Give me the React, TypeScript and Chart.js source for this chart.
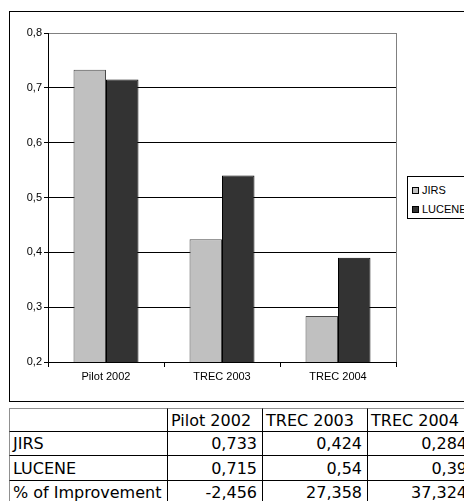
import React, { useEffect, useRef } from "react";
import { Chart, registerables } from "chart.js";

Chart.register(...registerables);

const categories = ["Pilot 2002", "TREC 2003", "TREC 2004"];
const seriesNames = ["JIRS", "LUCENE"];
const jirsValues = [0.733, 0.424, 0.284];
const luceneValues = [0.715, 0.54, 0.39];
const improvementValues = [-2.456, 27.358, 37.324];
const rowNames = ["JIRS", "LUCENE", "% of Improvement"];
const yTickLabels = ["0,2", "0,3", "0,4", "0,5", "0,6", "0,7", "0,8"];

const fillColors = ["#c0c0c0", "#333333"];
const edgeColors = ["#4a4a4a", "#000000"];

const fmt = (v: number) => String(v).replace(".", ",");

const plotFrame = {
  id: "plotFrame",
  beforeDraw(chart: any) {
    const { ctx, chartArea } = chart;
    ctx.save();
    ctx.strokeStyle = "#808080";
    ctx.lineWidth = 1;
    ctx.strokeRect(
      Math.round(chartArea.left) + 0.5,
      Math.round(chartArea.top) + 0.5,
      Math.round(chartArea.right - chartArea.left),
      Math.round(chartArea.bottom - chartArea.top)
    );
    ctx.restore();
  },
};

function BarChart() {
  const ref = useRef<HTMLCanvasElement | null>(null);
  useEffect(() => {
    if (!ref.current) return;
    const chart = new Chart(ref.current, {
      type: "bar",
      data: {
        labels: categories,
        datasets: [
          {
            label: seriesNames[0],
            data: jirsValues,
            backgroundColor: fillColors[0],
            borderColor: edgeColors[0],
            borderWidth: 1,
          },
          {
            label: seriesNames[1],
            data: luceneValues,
            backgroundColor: fillColors[1],
            borderColor: edgeColors[1],
            borderWidth: 1,
          },
        ],
      },
      options: {
        responsive: false,
        animation: false,
        devicePixelRatio: 1,
        layout: { padding: { left: 0, right: 68, top: 33, bottom: 0 } },
        datasets: {
          bar: { categoryPercentage: 0.56, barPercentage: 1.0 },
        },
        plugins: {
          legend: { display: false },
          tooltip: { enabled: false },
        },
        scales: {
          x: {
            afterFit: (s: any) => {
              s.height = 40;
            },
            grid: {
              display: true,
              drawOnChartArea: false,
              drawTicks: true,
              tickLength: 5,
              color: "#000",
              offset: true,
            },
            border: { color: "#000", width: 1 },
            ticks: {
              color: "#000",
              padding: 3,
              font: { family: "'Liberation Sans', Arial, sans-serif", size: 11 },
            },
          },
          y: {
            min: 0.2,
            max: 0.8,
            afterFit: (s: any) => {
              s.width = 48;
            },
            grid: {
              color: (c: any) =>
                c.tick && Math.abs(c.tick.value - 0.8) < 1e-6 ? "#808080" : "#000",
              tickColor: "#000",
              tickLength: 4,
              lineWidth: 1,
            },
            border: { color: "#000", width: 1 },
            ticks: {
              stepSize: 0.1,
              color: "#000",
              padding: 2,
              font: { family: "'Liberation Sans', Arial, sans-serif", size: 11 },
              callback: (_v: any, i: number) => yTickLabels[i],
            },
          },
        },
      },
      plugins: [plotFrame],
    });
    return () => chart.destroy();
  }, []);
  return (
    <canvas
      ref={ref}
      width={464}
      height={402}
      style={{ position: "absolute", left: 0, top: 0, width: 464, height: 402 }}
    />
  );
}

const colX = [9, 168, 263, 368, 473];
const rowY = [408, 432, 456, 481, 505];

function DataTable() {
  const rows: string[][] = [
    ["", ...categories],
    [rowNames[0], ...jirsValues.map(fmt)],
    [rowNames[1], ...luceneValues.map(fmt)],
    [rowNames[2], ...improvementValues.map(fmt)],
  ];
  const cells: any[] = [];
  rows.forEach((r, ri) => {
    r.forEach((txt, ci) => {
      const header = ri === 0 || ci === 0;
      cells.push(
        <div
          key={ri + "-" + ci}
          style={{
            position: "absolute",
            left: colX[ci],
            top: rowY[ri],
            width: colX[ci + 1] - colX[ci],
            height: rowY[ri + 1] - rowY[ri],
            boxSizing: "border-box",
            borderTop: ri === 0 ? "1px solid #909090" : "none",
            borderLeft: ci === 0 ? "1px solid #909090" : "none",
            borderRight: "1px solid #000",
            borderBottom: "1px solid #000",
            display: "flex",
            alignItems: "center",
            justifyContent: header ? "flex-start" : "flex-end",
            paddingLeft: header ? 3 : 0,
            paddingRight: header ? 0 : 5,
            fontFamily: "'DejaVu Sans', Verdana, sans-serif",
            fontSize: 16,
            color: "#000",
            whiteSpace: "nowrap",
            overflow: "hidden",
          }}
        >
          {txt}
        </div>
      );
    });
  });
  return <>{cells}</>;
}

function Legend() {
  return (
    <div
      style={{
        position: "absolute",
        left: 407,
        top: 176,
        width: 80,
        height: 43,
        boxSizing: "border-box",
        border: "1px solid #000",
        background: "#fff",
      }}
    >
      {seriesNames.map((name, i) => (
        <div
          key={name}
          style={{
            position: "absolute",
            left: 4,
            top: 7 + i * 19,
            height: 12,
            display: "flex",
            alignItems: "center",
            fontFamily: "'Liberation Sans', Arial, sans-serif",
            fontSize: 11,
            color: "#000",
            whiteSpace: "nowrap",
          }}
        >
          <span
            style={{
              display: "inline-block",
              width: 7,
              height: 7,
              boxSizing: "border-box",
              border: "1px solid #000",
              background: fillColors[i],
              marginRight: 3,
            }}
          />
          {name}
        </div>
      ))}
    </div>
  );
}

export default function App() {
  return (
    <div
      style={{
        position: "fixed",
        left: 0,
        top: 0,
        width: 464,
        height: 501,
        overflow: "hidden",
        background: "#fff",
      }}
    >
      <div
        style={{
          position: "absolute",
          left: 9,
          top: 11,
          width: 480,
          height: 391,
          boxSizing: "border-box",
          border: "1px solid #000",
        }}
      />
      <BarChart />
      <Legend />
      <DataTable />
    </div>
  );
}
